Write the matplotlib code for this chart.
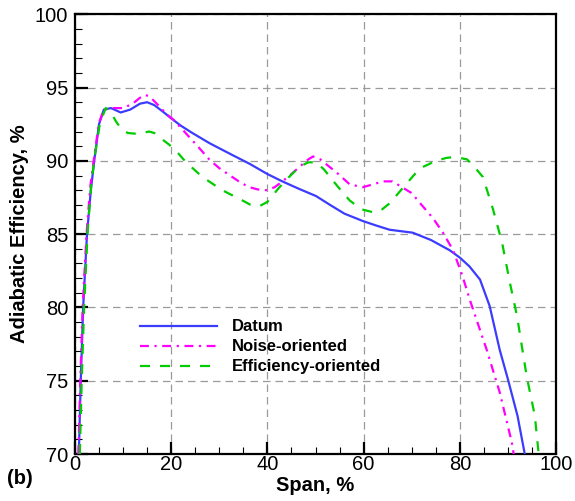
import numpy as np
import matplotlib
matplotlib.use("Agg")
import matplotlib.pyplot as plt
from matplotlib.ticker import MultipleLocator

plt.rcParams['font.family'] = ['Liberation Sans', 'DejaVu Sans']

# Datum
vtXDatum = [0.8, 1.2, 1.7, 2.5, 3.3, 4.0, 5.0, 6.0, 7.5, 9.5, 11.5, 13.5, 15.0, 16.5, 18.5, 20,
            22, 24.4, 28, 32.7, 36.3, 40, 43.1, 46.5, 50.1, 53, 56, 59.8, 62.5, 65.4, 70.2, 74,
            77.9, 80, 82, 84.2, 86.2, 88.3, 90, 92, 93.5]
vtYDatum = [70, 75, 80, 85, 88, 90, 92.5, 93.5, 93.6, 93.3, 93.5, 93.9, 94.0, 93.8, 93.3, 92.9,
            92.4, 91.9, 91.2, 90.4, 89.8, 89.1, 88.6, 88.1, 87.6, 87.0, 86.4, 85.9, 85.6, 85.3, 85.1, 84.6,
            83.9, 83.4, 82.8, 81.9, 80.1, 77.1, 75.1, 72.6, 70]

# Noise-oriented
vtXNoise = [0.7, 1.1, 1.6, 2.4, 3.2, 4.0, 5.0, 6.0, 8, 10, 12, 13.5, 14.5, 15.5, 17, 19, 20.5,
            23, 25.5, 27.9, 30, 32.7, 34.5, 36.3, 38, 39.8, 41.5, 43.1, 45, 46.7, 48.5, 49.5, 51,
            52.5, 54.4, 57.1, 59.8, 62, 64, 66, 67.5, 70, 72.3, 74.4, 76.5, 78.6, 80.5, 82.1,
            85.6, 88.3, 90.8, 91.2]
vtYNoise = [70, 75, 80, 85, 88.3, 90.3, 92.6, 93.5, 93.6, 93.6, 93.9, 94.3, 94.5, 94.4, 93.9, 93.2, 92.8,
            91.9, 91.0, 90.1, 89.5, 88.9, 88.5, 88.2, 88.05, 88.0, 88.2, 88.6, 89.1, 89.6, 90.1, 90.3, 90.1,
            89.7, 89.2, 88.4, 88.2, 88.4, 88.6, 88.6, 88.3, 87.8, 86.9, 86.1, 85.1, 83.9, 82.2, 80.5,
            77.1, 74.2, 70.8, 70]

# Efficiency-oriented
vtXEff = [1.0, 1.4, 1.9, 2.6, 3.4, 4.2, 5.2, 6.4, 7.5, 8.5, 9.8, 11, 12.7, 14, 15.4, 16.5, 18,
          19.6, 21.5, 23.1, 26.5, 30.6, 34.8, 36.5, 38.3, 40, 42.5, 44.5, 46.7, 48.5, 50.2, 51.8,
          53.5, 55, 57.1, 59.5, 61.9, 63.5, 65.4, 67.5, 69.6, 71.7, 73.1, 75, 77.2, 78.5, 80, 81.5,
          83, 84.8, 86.9, 88.8, 90.4, 91.9, 93.9, 95.6, 96.3, 96.4]
vtYEff = [70, 75, 80, 85, 88.5, 90.5, 92.6, 93.6, 93.3, 92.7, 92.1, 91.9, 91.85, 91.9, 92.0, 91.9, 91.5,
          91.1, 90.5, 89.9, 88.9, 88.0, 87.3, 87.0, 86.9, 87.2, 88.2, 88.9, 89.6, 89.9, 89.9, 89.4,
          88.7, 88.1, 87.3, 86.7, 86.5, 86.6, 87.1, 87.9, 88.7, 89.5, 89.7, 90.0, 90.2, 90.25, 90.2, 90.1,
          89.6, 88.9, 86.7, 84.4, 81.7, 79.4, 75.3, 72.6, 70.3, 70]

fig = plt.figure(figsize=(5.75, 5.01), dpi=100)
ax = fig.add_axes([0.1304, 0.0938, 0.8366, 0.8777])

ax.plot(vtXDatum, vtYDatum, color='#3c3cff', lw=1.6, label='Datum', zorder=3)
ax.plot(vtXNoise, vtYNoise, color='#ff00ff', lw=1.6, ls=(0, (4, 2.5, 1, 2.5)),
        label='Noise-oriented', zorder=3)
ax.plot(vtXEff, vtYEff, color='#00cc00', lw=1.6, ls=(0, (4.5, 4.5)),
        label='Efficiency-oriented', zorder=3)

ax.set_xlim(0, 100)
ax.set_ylim(70, 100)
ax.xaxis.set_major_locator(MultipleLocator(20))
ax.xaxis.set_minor_locator(MultipleLocator(5))
ax.yaxis.set_major_locator(MultipleLocator(5))
ax.yaxis.set_minor_locator(MultipleLocator(1))
ax.tick_params(which='major', direction='in', length=9, width=1.6, labelsize=14.5)
ax.tick_params(axis='x', which='major', pad=1)
ax.tick_params(axis='y', which='major', pad=5)
ax.tick_params(which='minor', direction='in', length=5, width=0.8)
for s in ax.spines.values():
    s.set_linewidth(1.6)

ax.grid(True, which='major', color='#9a9a9a', lw=0.9, ls=(0, (6, 4)), zorder=1)

ax.set_xlabel('Span, %', fontsize=14.5, fontweight='bold', labelpad=1)
ax.set_ylabel('Adiabatic Efficiency, %', fontsize=14.5, fontweight='bold', labelpad=4)

leg = ax.legend(loc='upper left', bbox_to_anchor=(0.105, 0.34), frameon=False,
                prop={'weight': 'bold', 'size': 12}, handlelength=4.6,
                handletextpad=0.9, labelspacing=0.3)

fig.text(0.012, 0.044, '(b)', fontsize=14.5, fontweight='bold', va='center')

fig.savefig('out.png', dpi=100)
